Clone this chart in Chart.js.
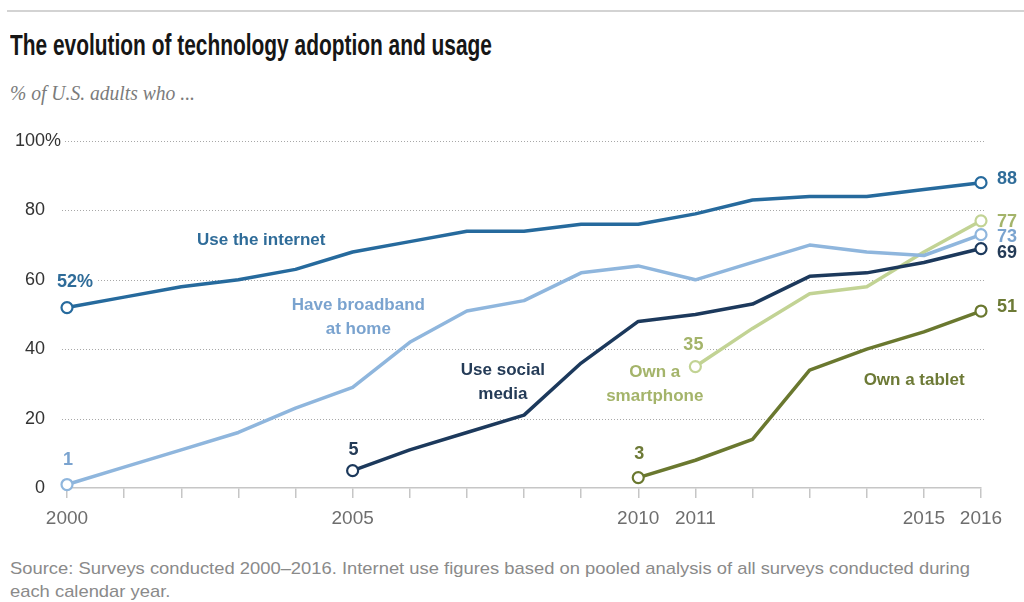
<!DOCTYPE html>
<html>
<head>
<meta charset="utf-8">
<title>The evolution of technology adoption and usage</title>
<script src="https://cdn.jsdelivr.net/npm/chart.js@4.4.1/dist/chart.umd.min.js"></script>
<style>
  html, body { margin: 0; padding: 0; background: #fff; }
  body { width: 1024px; height: 602px; position: relative; overflow: hidden; font-family: "Liberation Sans", Arial, sans-serif; }
  #rule { position: absolute; left: 7px; right: 0; top: 10px; height: 2px; background: #d3d3d3; }
  .fit { position: absolute; white-space: nowrap; transform-origin: 0 0; }
  #title { left: 10px; top: 30px; font-size: 30px; line-height: 30px; font-weight: bold; color: #161616; }
  #subtitle { left: 10px; top: 83px; font-size: 20px; line-height: 20px; font-style: italic; font-family: "Liberation Serif", serif; color: #7b7b7b; }
  #source { left: 10px; top: 557px; font-size: 17px; line-height: 23px; color: #8a8a8a; }
  #chart { position: absolute; left: 0; top: 0; }
</style>
</head>
<body>
<div id="rule"></div>
<div id="title" class="fit">The evolution of technology adoption and usage</div>
<div id="subtitle" class="fit">% of U.S. adults who ...</div>
<div id="source" class="fit">Source: Surveys conducted 2000–2016. Internet use figures based on pooled analysis of all surveys conducted during<br>each calendar year.</div>
<canvas id="chart" width="1024" height="602"></canvas>
<script>
// Data (% of U.S. adults)
const years = [2000, 2001, 2002, 2003, 2004, 2005, 2006, 2007, 2008, 2009, 2010, 2011, 2012, 2013, 2014, 2015, 2016];
const internetUse = [52, 55, 58, 60, 63, 68, 71, 74, 74, 76, 76, 79, 83, 84, 84, 86, 88];
const broadbandHome = [1, 6, 11, 16, 23, 29, 42, 51, 54, 62, 64, 60, 65, 70, 68, 67, 73];
const socialMedia = [null, null, null, null, null, 5, 11, 16, 21, 36, 48, 50, 53, 61, 62, 65, 69];
const smartphone = [null, null, null, null, null, null, null, null, null, null, null, 35, 46, 56, 58, 68, 77];
const tablet = [null, null, null, null, null, null, null, null, null, null, 3, 8, 14, 34, 40, 45, 51];

const yTicks = [0, 20, 40, 60, 80, 100];
const labelledYears = [2000, 2005, 2010, 2011, 2015, 2016];

const FONT = '"Liberation Sans", Arial, sans-serif';

// series styling + where the in-chart labels sit
const series = [
    { name: 'Use the internet', values: internetUse, line: '#266a9d', text: '#2f6c99',
      label: ['Use the internet'], at: [2003.4, 71.5], startText: '52%', startNudge: [8, -26], endNudge: -4 },
    { name: 'Have broadband at home', values: broadbandHome, line: '#8fb6dd', text: '#7aa3cf',
      label: ['Have broadband', 'at home'], at: [2005.1, 52.7], startNudge: [1, -24], endNudge: 2 },
    { name: 'Use social media', values: socialMedia, line: '#1c395c', text: '#243b57',
      label: ['Use social', 'media'], at: [2007.63, 34], startNudge: [1, -21], endNudge: 4 },
    { name: 'Own a smartphone', values: smartphone, line: '#c2d394', text: '#a4b46a',
      label: ['Own a', 'smartphone'], at: [2010.29, 33.4], startNudge: [-2, -22], endNudge: 1 },
    { name: 'Own a tablet', values: tablet, line: '#6a782f', text: '#6d7a36',
      label: ['Own a tablet'], at: [2014.83, 31.1], startNudge: [1, -24], endNudge: -4 }
];

// squeeze the headline texts to the widths of the condensed originals
function fitText(el, width) {
    const w = el.getBoundingClientRect().width;
    el.style.transform = 'scaleX(' + (width / w) + ')';
}
fitText(document.getElementById('title'), 482);
fitText(document.getElementById('subtitle'), 185);
fitText(document.getElementById('source'), 960);

function clearBehind(ctx, left, y, w) {
    const fill = ctx.fillStyle;
    ctx.fillStyle = '#fff';
    ctx.fillRect(left - 4, y - 10, w + 8, 20);
    ctx.fillStyle = fill;
}

function textWithBg(ctx, text, x, y, align, bg) {
    ctx.textAlign = align;
    if (bg) {
        const w = ctx.measureText(text).width;
        const left = align === 'center' ? x - w / 2 : align === 'right' ? x - w : x;
        clearBehind(ctx, left, y, w);
    }
    ctx.fillText(text, x, y);
}

const annotate = {
    id: 'annotate',
    beforeDatasetsDraw(chart) {
        const { ctx, chartArea, scales: { x, y } } = chart;
        ctx.save();

        // dotted gridlines
        ctx.strokeStyle = '#a8a8a8';
        ctx.lineWidth = 1;
        ctx.setLineDash([1, 2]);
        yTicks.filter(v => v > 0).forEach(v => {
            const py = Math.round(y.getPixelForValue(v)) + 0.5;
            ctx.beginPath();
            ctx.moveTo(chartArea.left - 5, py);
            ctx.lineTo(chartArea.right + 4, py);
            ctx.stroke();
        });
        ctx.setLineDash([]);

        // y tick labels, the % of 100% hangs past the other numbers
        ctx.font = '18px ' + FONT;
        ctx.textBaseline = 'middle';
        ctx.fillStyle = '#333';
        const right = chartArea.left - 22;
        yTicks.forEach(v => {
            const py = y.getPixelForValue(v);
            const num = String(v);
            const numW = ctx.measureText(num).width;
            const pctW = v === 100 ? ctx.measureText('%').width : 0;
            clearBehind(ctx, right - numW, py, numW + pctW);
            ctx.textAlign = 'right';
            ctx.fillText(num, right, py);
            if (v === 100) {
                ctx.textAlign = 'left';
                ctx.fillText('%', right, py);
            }
        });

        // series names
        ctx.font = 'bold 17px ' + FONT;
        series.forEach(s => {
            const px = x.getPixelForValue(s.at[0]);
            const py = y.getPixelForValue(s.at[1]);
            ctx.fillStyle = s.text;
            s.label.forEach((t, i) => textWithBg(ctx, t, px, py + i * 24, 'center', false));
        });

        // start values above the first point
        ctx.font = 'bold 18px ' + FONT;
        series.forEach(s => {
            const i = s.values.findIndex(v => v !== null);
            const px = x.getPixelForValue(years[i]) + s.startNudge[0];
            const py = y.getPixelForValue(s.values[i]) + s.startNudge[1];
            ctx.fillStyle = s.text;
            textWithBg(ctx, s.startText || String(s.values[i]), px, py, 'center', true);
        });
        ctx.restore();
    },
    afterDatasetsDraw(chart) {
        const { ctx, scales: { x, y } } = chart;
        ctx.save();
        ctx.font = 'bold 18px ' + FONT;
        ctx.textBaseline = 'middle';
        series.forEach(s => {
            const i = s.values.length - 1;
            ctx.fillStyle = s.text;
            ctx.textAlign = 'left';
            ctx.fillText(String(s.values[i]), x.getPixelForValue(years[i]) + 16, y.getPixelForValue(s.values[i]) + s.endNudge);
        });
        ctx.restore();
    }
};

const datasets = series.map(s => {
    const pts = [];
    s.values.forEach((v, i) => { if (v !== null) pts.push({ x: years[i], y: v }); });
    return {
        label: s.name,
        data: pts,
        borderColor: s.line,
        borderWidth: 3.5,
        tension: 0,
        clip: false,
        borderJoinStyle: 'round',
        pointRadius: ctx => (ctx.dataIndex === 0 || ctx.dataIndex === pts.length - 1) ? 5.5 : 0,
        pointBackgroundColor: '#fff',
        pointBorderColor: s.line,
        pointBorderWidth: 2.2,
        pointHoverRadius: 0
    };
});

new Chart(document.getElementById('chart'), {
    type: 'line',
    data: { datasets },
    plugins: [annotate],
    options: {
        responsive: false,
        animation: false,
        events: [],
        layout: { padding: { left: 67, right: 43, top: 141, bottom: 69 } },
        plugins: { legend: { display: false }, tooltip: { enabled: false }, title: { display: false } },
        scales: {
            x: {
                type: 'linear',
                min: 2000,
                max: 2016,
                afterBuildTicks: scale => { scale.ticks = years.map(v => ({ value: v })); },
                afterFit: scale => { scale.height = 45; },
                ticks: {
                    autoSkip: false,
                    maxRotation: 0,
                    padding: 9,
                    color: '#6e6e6e',
                    font: { family: FONT, size: 19 },
                    callback: v => labelledYears.includes(v) ? String(v) : ''
                },
                grid: { drawOnChartArea: false, drawTicks: true, tickLength: 10, color: '#c6c6c6', lineWidth: 1.5 },
                border: { display: true, color: '#c6c6c6', width: 1.5 }
            },
            y: {
                min: 0,
                max: 100,
                afterBuildTicks: scale => { scale.ticks = yTicks.map(v => ({ value: v })); },
                afterFit: scale => { scale.width = 0; },
                ticks: { display: false },
                grid: { display: false },
                border: { display: false }
            }
        }
    }
});
</script>
</body>
</html>
